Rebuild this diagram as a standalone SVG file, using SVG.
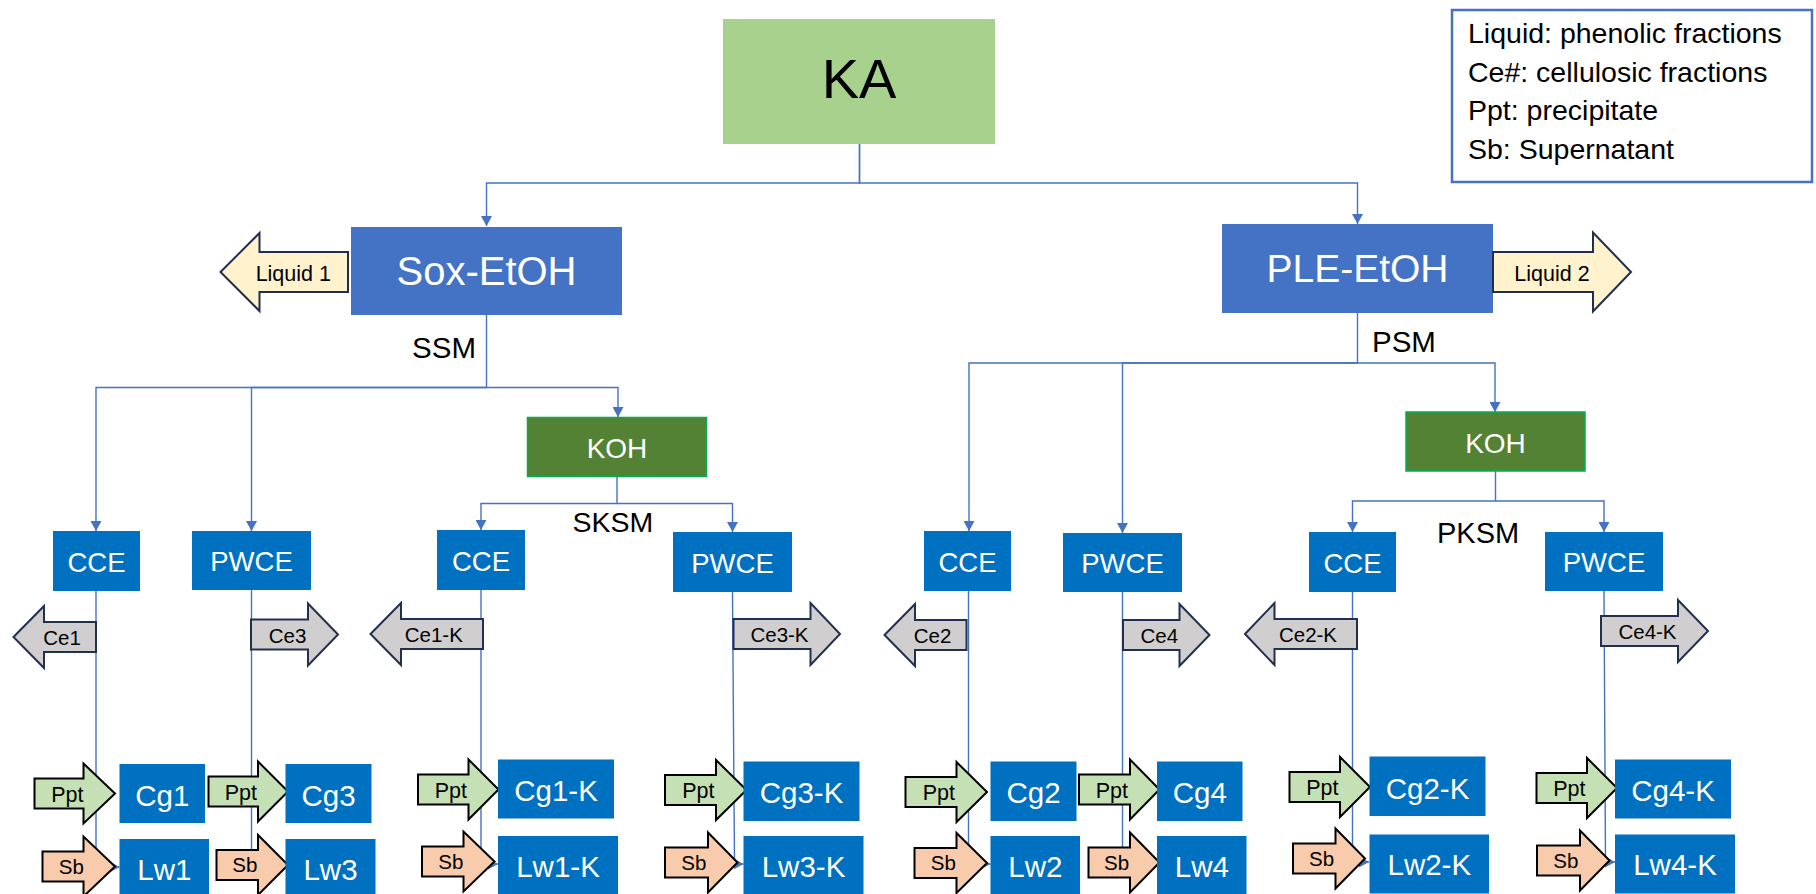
<svg xmlns="http://www.w3.org/2000/svg" width="1816" height="894" viewBox="0 0 1816 894">
<defs>
<style>
text{font-family:"Liberation Sans",Arial,sans-serif;}
.ka{fill:#A9D18E;}
.main{fill:#4472C4;}
.koh{fill:#548235;stroke:#00B050;stroke-width:1.5;}
.box{fill:#0070C0;}
.liq{fill:#FFF2CC;stroke:#1F2D4F;stroke-width:2;}
.ce{fill:#D0CECE;stroke:#22304F;stroke-width:2;}
.ppt{fill:#C5E0B4;stroke:#000;stroke-width:2;}
.sb{fill:#F8CBAD;stroke:#000;stroke-width:2;}
.legend{fill:#fff;stroke:#4472C4;stroke-width:2.5;}
.w{fill:#fff;text-anchor:middle;}
.b{fill:#000;text-anchor:middle;}
.lbl{fill:#000;}
.con{fill:none;stroke:#4472C4;stroke-width:1.4;marker-end:url(#ah);}
.t27{font-size:27.5px;}
.t29{font-size:29.5px;}
.t20{font-size:20.5px;}
.t21{font-size:21.5px;}
</style>
<marker id="ah" markerUnits="userSpaceOnUse" markerWidth="11" markerHeight="11" refX="10" refY="5.5" orient="auto">
<path d="M0,0 L10,5.5 L0,11 z" fill="#4472C4"/>
</marker>
</defs>
<rect width="1816" height="894" fill="#fff"/>

<g id="connectors">
<path class="con" d="M859.5,144 V183 H486.5 V226"/>
<path class="con" d="M859.5,144 V183 H1357.5 V224"/>
<path class="con" d="M486.5,315 V387.5 H96 V531"/>
<path class="con" d="M486.5,387.5 H251.5 V531"/>
<path class="con" d="M486.5,387.5 H618 V417"/>
<path class="con" d="M1357.5,313 V363 H969 V531"/>
<path class="con" d="M1357.5,363 H1122.5 V533"/>
<path class="con" d="M1357.5,363 H1495 V412"/>
<path class="con" d="M617,476.5 V503.5 H481 V530"/>
<path class="con" d="M617,503.5 H732.5 V532"/>
<path class="con" d="M1495.5,471 V501 H1352.5 V532"/>
<path class="con" d="M1495.5,501 H1604 V532"/>
<path class="con" d="M96,591 V867 H119.5"/>
<path class="con" d="M251.5,590 V867 H285.5"/>
<path class="con" d="M481,590 V864 H498"/>
<path class="con" d="M732.5,592 L734.5,864 H743.5"/>
<path class="con" d="M968.5,591 V864 H990.5"/>
<path class="con" d="M1122.5,592 V864 H1157"/>
<path class="con" d="M1352.5,592 V862 H1369"/>
<path class="con" d="M1604,591 L1605.5,862 H1615"/>
</g>

<g id="legend">
<rect class="legend" x="1452" y="10" width="360" height="172"/>
<text class="lbl" x="1468" y="42.7" font-size="28.5">Liquid: phenolic fractions</text>
<text class="lbl" x="1468" y="81.5" font-size="28.5">Ce#: cellulosic fractions</text>
<text class="lbl" x="1468" y="120" font-size="28.5">Ppt: precipitate</text>
<text class="lbl" x="1468" y="159.3" font-size="28.5">Sb: Supernatant</text>
</g>

<g id="KA"><rect class="ka" x="723" y="19" width="272" height="125"/><text class="b" x="859" y="98" font-size="56">KA</text></g>
<g id="SoxEtOH"><rect class="main" x="351" y="227" width="271" height="88"/><text class="w" x="486.5" y="285" font-size="40">Sox-EtOH</text></g>
<g id="PLEEtOH"><rect class="main" x="1222" y="224" width="271" height="89"/><text class="w" x="1357.5" y="282" font-size="39">PLE-EtOH</text></g>

<g id="Liquid1"><polygon class="liq" points="220.5,272 259.5,233 259.5,252 348,252 348,292 259.5,292 259.5,311"/><text class="b t21" x="293.3" y="280.7">Liquid 1</text></g>
<g id="Liquid2"><polygon class="liq" points="1493,252 1593,252 1593,232.5 1631,272 1593,311.5 1593,292 1493,292"/><text class="b t21" x="1552" y="280.5">Liquid 2</text></g>

<g id="labels">
<text class="lbl" x="476" y="358" font-size="29.5" text-anchor="end">SSM</text>
<text class="lbl" x="1372" y="352" font-size="29.5">PSM</text>
<text class="lbl" x="572.5" y="532" font-size="28.5">SKSM</text>
<text class="lbl" x="1437" y="543" font-size="29">PKSM</text>
</g>

<g id="KOH1"><rect class="koh" x="527.5" y="417.5" width="179" height="59"/><text class="w" x="617" y="458" font-size="28">KOH</text></g>
<g id="KOH2"><rect class="koh" x="1406" y="412" width="179" height="59"/><text class="w" x="1495.5" y="452.5" font-size="28">KOH</text></g>

<g id="CCE1"><rect class="box" x="53" y="531" width="87" height="60"/><text class="w t27" x="96.5" y="571.5">CCE</text></g>
<g id="PWCE1"><rect class="box" x="192" y="531" width="119" height="59"/><text class="w t27" x="251.5" y="571">PWCE</text></g>
<g id="CCE1K"><rect class="box" x="437" y="530" width="88" height="60"/><text class="w t27" x="481" y="570.5">CCE</text></g>
<g id="PWCE1K"><rect class="box" x="673" y="532" width="119" height="60"/><text class="w t27" x="732.5" y="572.5">PWCE</text></g>
<g id="CCE2"><rect class="box" x="924" y="531" width="87" height="60"/><text class="w t27" x="967.5" y="571.5">CCE</text></g>
<g id="PWCE2"><rect class="box" x="1063" y="533" width="119" height="59"/><text class="w t27" x="1122.5" y="573">PWCE</text></g>
<g id="CCE2K"><rect class="box" x="1309" y="532" width="87" height="60"/><text class="w t27" x="1352.5" y="572.5">CCE</text></g>
<g id="PWCE2K"><rect class="box" x="1545" y="532" width="118" height="59"/><text class="w t27" x="1604" y="572">PWCE</text></g>

<g id="Ce1"><polygon class="ce" points="13.5,637 44,606 44,622 96,622 96,652 44,652 44,668"/><text class="b t20" x="62" y="645">Ce1</text></g>
<g id="Ce3"><polygon class="ce" points="251,619.5 308,619.5 308,603.5 338,634.5 308,665.5 308,649.5 251,649.5"/><text class="b t20" x="287.5" y="642.5">Ce3</text></g>
<g id="Ce1K"><polygon class="ce" points="370.5,634 401,603 401,619 483,619 483,649 401,649 401,665"/><text class="b t20" x="433.8" y="642">Ce1-K</text></g>
<g id="Ce3K"><polygon class="ce" points="733.5,619 810.5,619 810.5,603 840,634 810.5,665 810.5,649 733.5,649"/><text class="b t20" x="779.5" y="642">Ce3-K</text></g>
<g id="Ce2"><polygon class="ce" points="884.5,635 915,604 915,620 966.5,620 966.5,650 915,650 915,666"/><text class="b t20" x="932.5" y="643">Ce2</text></g>
<g id="Ce4"><polygon class="ce" points="1123,620 1179.5,620 1179.5,604 1209.5,635 1179.5,666 1179.5,650 1123,650"/><text class="b t20" x="1159.3" y="643">Ce4</text></g>
<g id="Ce2K"><polygon class="ce" points="1245,634 1274.5,603 1274.5,619 1357,619 1357,649 1274.5,649 1274.5,665"/><text class="b t20" x="1308" y="642">Ce2-K</text></g>
<g id="Ce4K"><polygon class="ce" points="1601,616 1678,616 1678,600 1708,631 1678,662 1678,646 1601,646"/><text class="b t20" x="1647.5" y="639">Ce4-K</text></g>

<g id="Ppt1"><polygon class="ppt" points="34.5,778.5 83.5,778.5 83.5,763.5 115,793.5 83.5,823.5 83.5,808.5 34.5,808.5"/><text class="b t21" x="67.3" y="801.5">Ppt</text></g>
<g id="Ppt3"><polygon class="ppt" points="208.5,776.5 258,776.5 258,761.5 288,791.5 258,821.5 258,806.5 208.5,806.5"/><text class="b t21" x="240.8" y="799.5">Ppt</text></g>
<g id="Ppt1K"><polygon class="ppt" points="418,774.5 468.5,774.5 468.5,759.5 498.5,789.5 468.5,819.5 468.5,804.5 418,804.5"/><text class="b t21" x="450.8" y="797.5">Ppt</text></g>
<g id="Ppt3K"><polygon class="ppt" points="665,775 716,775 716,760 746.5,790 716,820 716,805 665,805"/><text class="b t21" x="698.3" y="798">Ppt</text></g>
<g id="Ppt2"><polygon class="ppt" points="905.5,777 956.5,777 956.5,762 987,792 956.5,822 956.5,807 905.5,807"/><text class="b t21" x="938.8" y="800">Ppt</text></g>
<g id="Ppt4"><polygon class="ppt" points="1079,774.5 1130,774.5 1130,759.5 1159.5,789.5 1130,819.5 1130,804.5 1079,804.5"/><text class="b t21" x="1111.8" y="797.5">Ppt</text></g>
<g id="Ppt2K"><polygon class="ppt" points="1289.5,772 1340,772 1340,757 1370,787 1340,817 1340,802 1289.5,802"/><text class="b t21" x="1322.3" y="795">Ppt</text></g>
<g id="Ppt4K"><polygon class="ppt" points="1536.5,773 1587,773 1587,758 1617,788 1587,818 1587,803 1536.5,803"/><text class="b t21" x="1569.3" y="796">Ppt</text></g>

<g id="Sb1"><polygon class="sb" points="42.5,851.5 83.5,851.5 83.5,836.5 115,866.5 83.5,896.5 83.5,881.5 42.5,881.5"/><text class="b t20" x="71.3" y="873.5">Sb</text></g>
<g id="Sb3"><polygon class="sb" points="216.5,850 258,850 258,835 288,865 258,895 258,880 216.5,880"/><text class="b t20" x="244.8" y="872">Sb</text></g>
<g id="Sb1K"><polygon class="sb" points="422,846.5 463.5,846.5 463.5,831.5 494.5,861.5 463.5,891.5 463.5,876.5 422,876.5"/><text class="b t20" x="450.8" y="868.5">Sb</text></g>
<g id="Sb3K"><polygon class="sb" points="665,847.5 708,847.5 708,832.5 737.5,862.5 708,892.5 708,877.5 665,877.5"/><text class="b t20" x="693.8" y="869.5">Sb</text></g>
<g id="Sb2"><polygon class="sb" points="914.5,848 956.5,848 956.5,833 987,863 956.5,893 956.5,878 914.5,878"/><text class="b t20" x="943.3" y="870">Sb</text></g>
<g id="Sb4"><polygon class="sb" points="1088.5,847.5 1130,847.5 1130,832.5 1159.5,862.5 1130,892.5 1130,877.5 1088.5,877.5"/><text class="b t20" x="1116.5" y="869.5">Sb</text></g>
<g id="Sb2K"><polygon class="sb" points="1293,843.5 1335.5,843.5 1335.5,828.5 1365,858.5 1335.5,888.5 1335.5,873.5 1293,873.5"/><text class="b t20" x="1321.5" y="865.5">Sb</text></g>
<g id="Sb4K"><polygon class="sb" points="1537,845.5 1580,845.5 1580,830.5 1609.5,860.5 1580,890.5 1580,875.5 1537,875.5"/><text class="b t20" x="1565.8" y="867.5">Sb</text></g>

<g id="Cg1"><rect class="box" x="119.5" y="764" width="85.5" height="59"/><text class="w t29" x="162.3" y="805.5">Cg1</text></g>
<g id="Lw1"><rect class="box" x="119.5" y="839" width="89.5" height="59"/><text class="w t29" x="164.3" y="879.5">Lw1</text></g>
<g id="Cg3"><rect class="box" x="285.5" y="764" width="86" height="59"/><text class="w t29" x="328.5" y="805.5">Cg3</text></g>
<g id="Lw3"><rect class="box" x="285.5" y="839" width="90" height="59"/><text class="w t29" x="330.5" y="879.5">Lw3</text></g>
<g id="Cg1K"><rect class="box" x="498" y="759.5" width="116" height="59"/><text class="w t29" x="556" y="801">Cg1-K</text></g>
<g id="Lw1K"><rect class="box" x="498" y="836" width="120" height="59"/><text class="w t29" x="558" y="876.5">Lw1-K</text></g>
<g id="Cg3K"><rect class="box" x="743.5" y="761.5" width="116" height="59.5"/><text class="w t29" x="801.5" y="803">Cg3-K</text></g>
<g id="Lw3K"><rect class="box" x="743.5" y="836" width="120" height="59"/><text class="w t29" x="803.5" y="876.5">Lw3-K</text></g>
<g id="Cg2"><rect class="box" x="990.5" y="761.5" width="86" height="59.5"/><text class="w t29" x="1033.5" y="803">Cg2</text></g>
<g id="Lw2"><rect class="box" x="990.5" y="836" width="89.5" height="59"/><text class="w t29" x="1035.3" y="876.5">Lw2</text></g>
<g id="Cg4"><rect class="box" x="1157" y="761.5" width="85.5" height="59.5"/><text class="w t29" x="1199.8" y="803">Cg4</text></g>
<g id="Lw4"><rect class="box" x="1157" y="836" width="89.5" height="59"/><text class="w t29" x="1201.8" y="876.5">Lw4</text></g>
<g id="Cg2K"><rect class="box" x="1369.5" y="756.5" width="116" height="59.5"/><text class="w t29" x="1427.5" y="798.5">Cg2-K</text></g>
<g id="Lw2K"><rect class="box" x="1369.5" y="834.5" width="119.5" height="59"/><text class="w t29" x="1429.3" y="875">Lw2-K</text></g>
<g id="Cg4K"><rect class="box" x="1615" y="759.5" width="116" height="59"/><text class="w t29" x="1673" y="801">Cg4-K</text></g>
<g id="Lw4K"><rect class="box" x="1615" y="834.5" width="120" height="59"/><text class="w t29" x="1675" y="875">Lw4-K</text></g>
</svg>
